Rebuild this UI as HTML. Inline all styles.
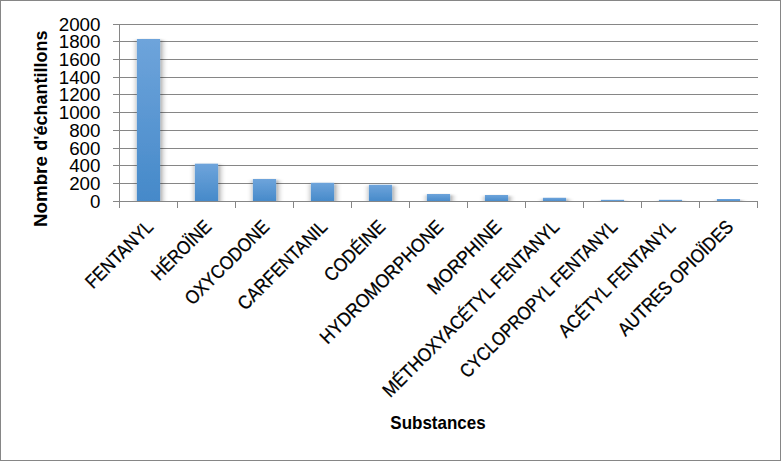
<!DOCTYPE html>
<html><head><meta charset="utf-8"><title>Chart</title>
<style>html,body{margin:0;padding:0;background:#fff;}body{width:781px;height:461px;overflow:hidden;}svg{display:block;}</style>
</head><body>
<svg width="781" height="461" viewBox="0 0 781 461">
<defs>
<linearGradient id="g" x1="0" y1="0" x2="0" y2="1"><stop offset="0" stop-color="#6ea4db"/><stop offset="1" stop-color="#4589c9"/></linearGradient>
<filter id="sh" x="-60%" y="-20%" width="220%" height="140%"><feGaussianBlur in="SourceAlpha" stdDeviation="3 1.2"/><feOffset dx="0.6" dy="1.2" result="b"/><feComponentTransfer><feFuncA type="linear" slope="0.5"/></feComponentTransfer><feMerge><feMergeNode/><feMergeNode in="SourceGraphic"/></feMerge></filter>
<clipPath id="pc"><rect x="119" y="0" width="639" height="201"/></clipPath>
</defs>
<rect x="0.5" y="0.5" width="780" height="460" fill="#fff" stroke="#868686" stroke-width="1"/>
<path d="M113 183.5H758 M113 165.5H758 M113 148.5H758 M113 130.5H758 M113 112.5H758 M113 94.5H758 M113 77.5H758 M113 59.5H758 M113 41.5H758 M113 24.5H758" stroke="#868686" stroke-width="1" fill="none"/>
<g clip-path="url(#pc)">
<rect x="136.90" y="39.00" width="23.20" height="163.00" fill="url(#g)" filter="url(#sh)"/>
<rect x="194.90" y="163.70" width="23.20" height="38.30" fill="url(#g)" filter="url(#sh)"/>
<rect x="252.90" y="179.00" width="23.20" height="23.00" fill="url(#g)" filter="url(#sh)"/>
<rect x="310.90" y="182.80" width="23.20" height="19.20" fill="url(#g)" filter="url(#sh)"/>
<rect x="368.90" y="184.80" width="23.20" height="17.20" fill="url(#g)" filter="url(#sh)"/>
<rect x="426.90" y="194.00" width="23.20" height="8.00" fill="url(#g)" filter="url(#sh)"/>
<rect x="484.90" y="195.00" width="23.20" height="7.00" fill="url(#g)" filter="url(#sh)"/>
<rect x="542.90" y="197.80" width="23.20" height="4.20" fill="url(#g)" filter="url(#sh)"/>
<rect x="600.90" y="199.80" width="23.20" height="2.20" fill="url(#g)" filter="url(#sh)"/>
<rect x="658.90" y="199.80" width="23.20" height="2.20" fill="url(#g)" filter="url(#sh)"/>
<rect x="716.90" y="199.00" width="23.20" height="3.00" fill="url(#g)" filter="url(#sh)"/>
</g>
<path d="M119.5 24V208 M113 201.5H758 M177.5 202V208 M235.5 202V208 M293.5 202V208 M351.5 202V208 M409.5 202V208 M467.5 202V208 M525.5 202V208 M583.5 202V208 M641.5 202V208 M699.5 202V208 M757.5 202V208" stroke="#868686" stroke-width="1" fill="none"/>
<text x="100.5" y="207.8" text-anchor="end" font-family="Liberation Sans, sans-serif" font-size="17.5" textLength="10.4" lengthAdjust="spacingAndGlyphs" fill="#000">0</text>
<text x="100.5" y="189.8" text-anchor="end" font-family="Liberation Sans, sans-serif" font-size="17.5" textLength="31.3" lengthAdjust="spacingAndGlyphs" fill="#000">200</text>
<text x="100.5" y="171.8" text-anchor="end" font-family="Liberation Sans, sans-serif" font-size="17.5" textLength="31.3" lengthAdjust="spacingAndGlyphs" fill="#000">400</text>
<text x="100.5" y="154.8" text-anchor="end" font-family="Liberation Sans, sans-serif" font-size="17.5" textLength="31.3" lengthAdjust="spacingAndGlyphs" fill="#000">600</text>
<text x="100.5" y="136.8" text-anchor="end" font-family="Liberation Sans, sans-serif" font-size="17.5" textLength="31.3" lengthAdjust="spacingAndGlyphs" fill="#000">800</text>
<text x="100.5" y="118.8" text-anchor="end" font-family="Liberation Sans, sans-serif" font-size="17.5" textLength="41.8" lengthAdjust="spacingAndGlyphs" fill="#000">1000</text>
<text x="100.5" y="100.8" text-anchor="end" font-family="Liberation Sans, sans-serif" font-size="17.5" textLength="41.8" lengthAdjust="spacingAndGlyphs" fill="#000">1200</text>
<text x="100.5" y="83.8" text-anchor="end" font-family="Liberation Sans, sans-serif" font-size="17.5" textLength="41.8" lengthAdjust="spacingAndGlyphs" fill="#000">1400</text>
<text x="100.5" y="65.8" text-anchor="end" font-family="Liberation Sans, sans-serif" font-size="17.5" textLength="41.8" lengthAdjust="spacingAndGlyphs" fill="#000">1600</text>
<text x="100.5" y="47.8" text-anchor="end" font-family="Liberation Sans, sans-serif" font-size="17.5" textLength="41.8" lengthAdjust="spacingAndGlyphs" fill="#000">1800</text>
<text x="100.5" y="30.8" text-anchor="end" font-family="Liberation Sans, sans-serif" font-size="17.5" textLength="41.8" lengthAdjust="spacingAndGlyphs" fill="#000">2000</text>
<text transform="translate(154.50 228.00) rotate(-45)" text-anchor="end" font-family="Liberation Sans, sans-serif" font-size="19.0" textLength="86.9" lengthAdjust="spacingAndGlyphs" fill="#000" stroke="#000" stroke-width="0.3">FENTANYL</text>
<text transform="translate(212.50 228.00) rotate(-45)" text-anchor="end" font-family="Liberation Sans, sans-serif" font-size="19.0" textLength="75.6" lengthAdjust="spacingAndGlyphs" fill="#000" stroke="#000" stroke-width="0.3">HÉROÏNE</text>
<text transform="translate(270.50 228.00) rotate(-45)" text-anchor="end" font-family="Liberation Sans, sans-serif" font-size="19.0" textLength="110.3" lengthAdjust="spacingAndGlyphs" fill="#000" stroke="#000" stroke-width="0.3">OXYCODONE</text>
<text transform="translate(328.50 228.00) rotate(-45)" text-anchor="end" font-family="Liberation Sans, sans-serif" font-size="19.0" textLength="117.8" lengthAdjust="spacingAndGlyphs" fill="#000" stroke="#000" stroke-width="0.3">CARFENTANIL</text>
<text transform="translate(386.50 228.00) rotate(-45)" text-anchor="end" font-family="Liberation Sans, sans-serif" font-size="19.0" textLength="77.5" lengthAdjust="spacingAndGlyphs" fill="#000" stroke="#000" stroke-width="0.3">CODÉINE</text>
<text transform="translate(444.50 228.00) rotate(-45)" text-anchor="end" font-family="Liberation Sans, sans-serif" font-size="19.0" textLength="165.4" lengthAdjust="spacingAndGlyphs" fill="#000" stroke="#000" stroke-width="0.3">HYDROMORPHONE</text>
<text transform="translate(502.50 228.00) rotate(-45)" text-anchor="end" font-family="Liberation Sans, sans-serif" font-size="19.0" textLength="95.3" lengthAdjust="spacingAndGlyphs" fill="#000" stroke="#000" stroke-width="0.3">MORPHINE</text>
<text transform="translate(560.50 228.00) rotate(-45)" text-anchor="end" font-family="Liberation Sans, sans-serif" font-size="19.0" textLength="240.7" lengthAdjust="spacingAndGlyphs" fill="#000" stroke="#000" stroke-width="0.3">MÉTHOXYACÉTYL FENTANYL</text>
<text transform="translate(618.50 228.00) rotate(-45)" text-anchor="end" font-family="Liberation Sans, sans-serif" font-size="19.0" textLength="213.4" lengthAdjust="spacingAndGlyphs" fill="#000" stroke="#000" stroke-width="0.3">CYCLOPROPYL FENTANYL</text>
<text transform="translate(676.50 228.00) rotate(-45)" text-anchor="end" font-family="Liberation Sans, sans-serif" font-size="19.0" textLength="156.1" lengthAdjust="spacingAndGlyphs" fill="#000" stroke="#000" stroke-width="0.3">ACÉTYL FENTANYL</text>
<text transform="translate(734.50 228.00) rotate(-45)" text-anchor="end" font-family="Liberation Sans, sans-serif" font-size="19.0" textLength="154.3" lengthAdjust="spacingAndGlyphs" fill="#000" stroke="#000" stroke-width="0.3">AUTRES OPIOÏDES</text>
<text transform="translate(47 0) rotate(-90)" font-family="Liberation Sans, sans-serif" font-weight="bold" font-size="19.2" fill="#000"><tspan x="-227" textLength="70.8" lengthAdjust="spacingAndGlyphs">Nombre</tspan> <tspan x="-150.7" textLength="120.2" lengthAdjust="spacingAndGlyphs">d'échantillons</tspan></text>
<text x="438" y="428.9" text-anchor="middle" font-family="Liberation Sans, sans-serif" font-weight="bold" font-size="18.5" textLength="95.3" lengthAdjust="spacingAndGlyphs" fill="#000">Substances</text>
</svg>
</body></html>
